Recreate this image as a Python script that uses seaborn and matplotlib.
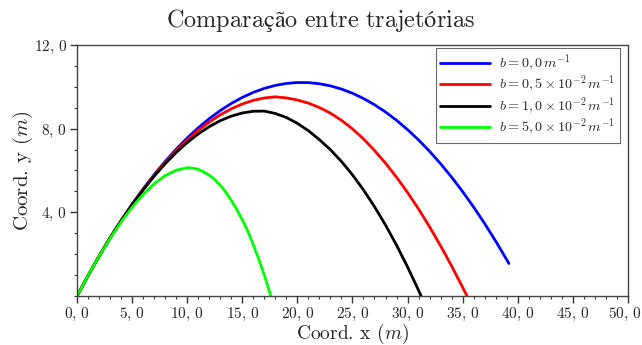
import matplotlib
matplotlib.use("Agg")
import matplotlib.pyplot as plt
import matplotlib.transforms as mtransforms
import seaborn as sns
import pandas as pd
from matplotlib.ticker import MultipleLocator, FixedLocator, FixedFormatter

# ---- data ----
labels = [r"$b = 0,0\,m^{-1}$",
          r"$b = 0,5\times10^{-2}\,m^{-1}$",
          r"$b = 1,0\times10^{-2}\,m^{-1}$",
          r"$b = 5,0\times10^{-2}\,m^{-1}$"]
colors = ["#0000ff", "#ff0000", "#000000", "#00ff00"]

x_b0 = [0, 1, 2, 3, 4, 5, 6, 7, 8, 9, 10, 11, 12, 13, 14, 15, 16, 17, 18, 19, 20,
        21, 22, 23, 24, 25, 26, 27, 28, 29, 30, 31, 32, 33, 34, 35, 36, 37, 38, 39, 39.2]
y_b0 = [0, 0.976, 1.902, 2.780, 3.608, 4.388, 5.118, 5.800, 6.432, 7.016, 7.550,
        8.036, 8.472, 8.860, 9.198, 9.488, 9.728, 9.920, 10.062, 10.156, 10.200,
        10.196, 10.142, 10.040, 9.888, 9.688, 9.438, 9.140, 8.792, 8.396, 7.950,
        7.456, 6.912, 6.320, 5.678, 4.988, 4.248, 3.460, 2.622, 1.736, 1.553]

x_b05 = [0, 1, 2, 3, 4, 5, 6, 7, 8, 9, 10, 11, 12, 13, 14, 15, 16, 17, 18, 19, 20,
         21, 22, 23, 24, 25, 26, 27, 28, 29, 30, 31, 32, 33, 34, 35, 35.4]
y_b05 = [0, 0.976, 1.901, 2.778, 3.602, 4.376, 5.098, 5.768, 6.384, 6.948, 7.457,
         7.912, 8.311, 8.656, 8.943, 9.174, 9.347, 9.463, 9.515, 9.465, 9.365, 9.215,
         9.005, 8.735, 8.395, 7.985, 7.505, 6.955, 6.345, 5.675, 4.945, 4.155, 3.305,
         2.395, 1.435, 0.415, 0.0]

x_b1 = [0, 1, 2, 3, 4, 5, 6, 7, 8, 9, 10, 11, 12, 13, 14, 15, 16, 17, 18, 19, 20,
        21, 22, 23, 24, 25, 26, 27, 28, 29, 30, 31, 31.23]
y_b1 = [0, 0.976, 1.900, 2.774, 3.594, 4.360, 5.070, 5.725, 6.319, 6.856, 7.330,
        7.743, 8.092, 8.377, 8.594, 8.745, 8.827, 8.835, 8.72, 8.53, 8.25, 7.90,
        7.47, 6.99, 6.43, 5.79, 5.07, 4.27, 3.39, 2.43, 1.39, 0.27, 0.0]

x_b5 = [0, 1, 2, 3, 4, 5, 6, 7, 8, 9, 10, 10.5, 11, 11.5, 12, 12.5, 13, 13.5, 14,
        14.5, 15, 15.5, 16, 16.5, 17, 17.5, 17.58]
y_b5 = [0, 0.976, 1.895, 2.753, 3.539, 4.244, 4.854, 5.362, 5.751, 6.011, 6.13,
        6.11, 6.05, 5.93, 5.77, 5.56, 5.29, 4.96, 4.57, 4.13, 3.64, 3.10, 2.45,
        1.75, 1.00, 0.15, 0.0]

x_ticks = [0, 5, 10, 15, 20, 25, 30, 35, 40, 45, 50]
x_ticklabels = ["0,0", "5,0", "10,0", "15,0", "20,0", "25,0", "30,0", "35,0",
                "40,0", "45,0", "50,0"]
y_ticks = [4, 8, 12]
y_ticklabels = ["4,0", "8,0", "12,0"]

# ---- long table ----
frames = []
for lab, xs, ys in zip(labels, [x_b0, x_b05, x_b1, x_b5], [y_b0, y_b05, y_b1, y_b5]):
    frames.append(pd.DataFrame({"x": xs, "y": ys, "serie": lab}))
df = pd.concat(frames, ignore_index=True)

sns.set_style("ticks")
plt.rcParams["font.family"] = ["cmr10", "DejaVu Serif"]
plt.rcParams["mathtext.fontset"] = "cm"
plt.rcParams["axes.formatter.use_mathtext"] = True

fig = plt.figure(figsize=(6.42, 3.45), dpi=100)
ax = fig.add_axes([0.12, 0.142, 0.858, 0.728])

sns.lineplot(data=df, x="x", y="y", hue="serie", hue_order=labels,
             palette=dict(zip(labels, colors)), estimator=None, sort=False,
             linewidth=2, ax=ax)

ax.set_xlim(0, 50)
ax.set_ylim(0, 12)
ax.xaxis.set_major_locator(FixedLocator(x_ticks))
ax.xaxis.set_major_formatter(FixedFormatter(["$" + t.replace(",", r",\,") + "$" for t in x_ticklabels]))
ax.yaxis.set_major_locator(FixedLocator(y_ticks))
ax.yaxis.set_major_formatter(FixedFormatter(["$" + t.replace(",", r",\,") + "$" for t in y_ticklabels]))
ax.xaxis.set_minor_locator(MultipleLocator(1))
ax.yaxis.set_minor_locator(MultipleLocator(1))
ax.tick_params(axis="both", which="major", direction="out", length=5, width=1,
               labelsize=11, pad=2, color="#333333", top=False, right=False)
ax.tick_params(axis="both", which="minor", direction="out", length=2.5, width=0.8,
               color="#333333", top=False, right=False)
for s in ax.spines.values():
    s.set_visible(True)
    s.set_color("#444444")
    s.set_linewidth(1.0)

ax.set_xlabel(r"Coord. x ($m$)", fontsize=14)
ax.set_ylabel(r"Coord. y ($m$)", fontsize=15)
ax.xaxis.set_label_coords(0.5, -0.101)
ax.yaxis.set_label_coords(-0.077, 0.5)
fig.text(0.5, 1 - 20 / 345, r"$\mathrm{Comparação\ entre\ trajetórias}$",
         fontsize=17.5, ha="center", va="center")

leg = ax.legend(loc="upper right", bbox_to_anchor=(0.99, 1.0), borderaxespad=0.2,
                fontsize=10.2, frameon=True, fancybox=False,
                edgecolor="#444444", handlelength=3.5, borderpad=0.35,
                labelspacing=0.0, handletextpad=0.6)
leg.get_frame().set_linewidth(0.8)
for line in leg.get_lines():
    line.set_linewidth(2)

# keep the last x tick label inside the canvas
fig.canvas.draw()
last = ax.xaxis.get_major_ticks()[-1].label1
last.set_transform(last.get_transform() +
                   mtransforms.ScaledTranslation(-3 / 100, 0, fig.dpi_scale_trans))

fig.savefig("out.png", dpi=100)
